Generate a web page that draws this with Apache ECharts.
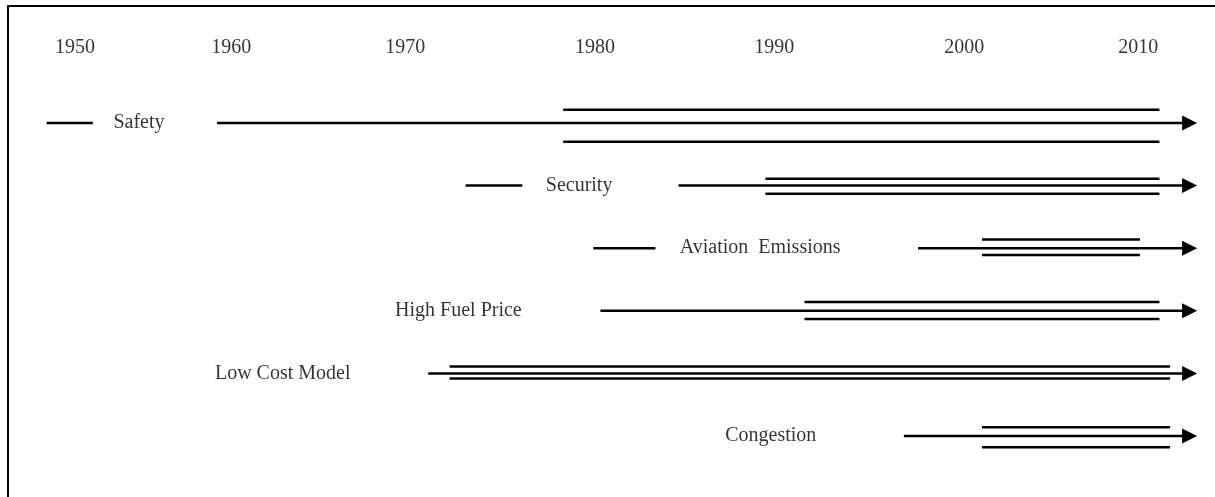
<!DOCTYPE html>
<html>
<head>
<meta charset="utf-8">
<style>
  html, body { margin: 0; padding: 0; background: #fff; }
  #chart { width: 1215px; height: 497px; }
</style>
<script src="https://cdn.jsdelivr.net/npm/echarts@6/dist/echarts.min.js"></script>
</head>
<body>
<div id="chart"></div>
<script>
// timeline rows (top to bottom)
var rows = ['Safety', 'Security', 'Aviation  Emissions', 'High Fuel Price', 'Low Cost Model', 'Congestion'];
// where each row's label sits on the time scale
var labelYear = [1953.6, 1978.4, 1988.6, 1971.6, 1961.7, 1989.2];
// short leading dash before the label (null = none)
var dashStart = [1948.4, 1972.0, 1979.2, null, null, null];
var dashEnd = [1951.0, 1975.2, 1982.7, null, null, null];
// main arrow from start year to the arrow
var trendStart = [1958.0, 1984.0, 1997.5, 1979.6, 1969.9, 1996.7];
var trendEnd = [2012.8, 2012.8, 2012.8, 2012.8, 2012.8, 2012.8];
// period with parallel lines (intensifying)
var bandStart = [1977.5, 1988.9, 2001.1, 1991.1, 1971.1, 2001.1];
var bandEnd = [2011.1, 2011.1, 2010.0, 2011.1, 2011.7, 2011.7];
var bandUpper = [-0.21, -0.11, -0.14, -0.14, -0.11, -0.14];
var bandLower = [0.30, 0.13, 0.11, 0.13, 0.08, 0.18];
// year tick labels and their place on the drawn scale
var yearLabels = ['1950', '1960', '1970', '1980', '1990', '2000', '2010'];
var yearPos = [1950, 1958.8, 1968.6, 1979.3, 1989.4, 2000.1, 2009.9];

var font = 'Liberation Serif';
var series = [];

function seg(x1, x2, y, w) {
	return {
		type: 'line',
		data: [[x1, y], [x2, y]],
		showSymbol: false,
		lineStyle: { color: '#000', width: w || 2.5 },
		silent: true
	};
}

rows.forEach(function (name, i) {
	if (dashStart[i] != null) series.push(seg(dashStart[i], dashEnd[i], i));
	series.push({
		type: 'line',
		showAllSymbol: true,
		data: [
			{ value: [trendStart[i], i], symbol: 'none' },
			{ value: [trendEnd[i], i], symbol: 'triangle', symbolRotate: -90, symbolSize: [15, 15] }
		],
		itemStyle: { color: '#000' },
		lineStyle: { color: '#000', width: 2.5 },
		silent: true
	});
	series.push(seg(bandStart[i], bandEnd[i], i + bandUpper[i]));
	series.push(seg(bandStart[i], bandEnd[i], i + bandLower[i]));
});

var textStyle = {
	show: true,
	position: 'inside',
	formatter: function (p) { return p.data[2]; },
	fontFamily: font, fontSize: 20, color: '#000',
	textBorderWidth: 0
};

// row labels
series.push({
	type: 'scatter',
	symbolSize: 0,
	clip: false,
	itemStyle: { color: '#000' },
	data: rows.map(function (name, i) { return [labelYear[i], i, name]; }),
	label: textStyle
});

// year labels along the top
series.push({
	type: 'scatter',
	symbolSize: 0,
	clip: false,
	itemStyle: { color: '#000' },
	data: yearPos.map(function (x, i) { return [x, -1.2, yearLabels[i]]; }),
	label: textStyle
});

var myChart = echarts.init(document.getElementById('chart'));
myChart.setOption({
	animation: false,
	backgroundColor: '#fff',
	grid: { left: 0, right: 0, top: 0, bottom: 0 },
	xAxis: {
		type: 'value', min: 1945.77, max: 2014.23,
		show: false
	},
	yAxis: {
		type: 'value', min: -1.965, max: 5.974, inverse: true,
		show: false
	},
	graphic: [{
		type: 'polyline',
		shape: { points: [[8, 497], [8, 6], [1215, 6]] },
		style: { stroke: '#000', lineWidth: 2, fill: null }
	}],
	series: series
});
</script>
</body>
</html>
